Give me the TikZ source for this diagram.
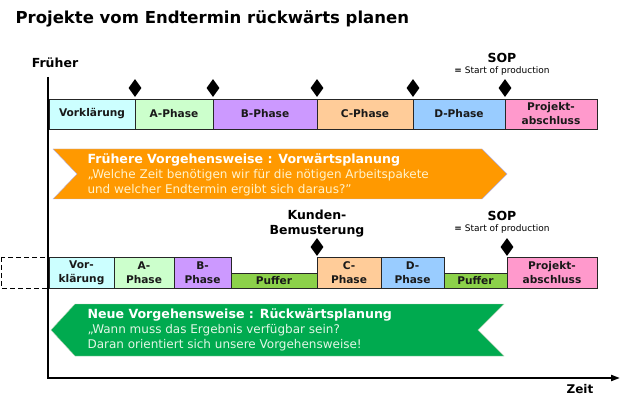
\documentclass[tikz,border=0pt]{standalone}
\usepackage{fontspec}
\setmainfont{DejaVu Sans}
\usetikzlibrary{shapes.geometric,arrows.meta}
\definecolor{cvor}{HTML}{CCFFFF}
\definecolor{cphA}{HTML}{CCFFCC}
\definecolor{cphB}{HTML}{CC99FF}
\definecolor{cphC}{HTML}{FFCC99}
\definecolor{cphD}{HTML}{99CCFF}
\definecolor{cabs}{HTML}{FF99CC}
\definecolor{cpuf}{HTML}{8CD14A}
\definecolor{corange}{HTML}{FF9900}
\definecolor{cgreen}{HTML}{00AA4F}
\definecolor{cream}{HTML}{FFF3CC}
\definecolor{mint}{HTML}{E2F6E6}
\tikzset{
  phasebox/.style={draw=black!85, line width=0.9pt, inner sep=0pt, align=center,
    font=\fontsize{10.6}{14}\selectfont\bfseries, text=black!90},
  milestone/.style={diamond, fill=black, inner sep=0pt, minimum width=13pt, minimum height=18pt},
  label/.style={align=center, font=\fontsize{12.5}{15}\selectfont\bfseries},
  sublabel/.style={font=\fontsize{9}{11}\selectfont},
  axisline/.style={line width=2pt, black}
}
\begin{document}
\begin{tikzpicture}[x=1pt,y=-1pt]
    \useasboundingbox (0,0) rectangle (630,409);
    \node[anchor=west, font=\fontsize{16.5}{19}\selectfont\bfseries] (title) at (12,19) {Projekte vom Endtermin rückwärts planen};
    % axes
    \coordinate (ytop) at (48,77);
    \coordinate (origin) at (48,378);
    \coordinate (xend) at (620,378);
    \draw[axisline] (ytop) -- (origin);
    \draw[axisline, -{Triangle[length=9pt,width=6pt]}] ([xshift=-1pt]origin) -- (xend);
    \node[font=\fontsize{12.5}{15}\selectfont\bfseries] (frueher) at (55,63) {Früher};
    \node[font=\fontsize{12}{15}\selectfont\bfseries] (zeit) at (580,389) {Zeit};
    % Vorwaertsplanung
    \node[phasebox, fill=cvor, minimum width=86pt, minimum height=30pt] (vk1) at (92,114) {Vorklärung};
    \node[phasebox, fill=cphA, minimum width=78pt, minimum height=30pt] (a1) at (174,114) {A-Phase};
    \node[phasebox, fill=cphB, minimum width=104pt, minimum height=30pt] (b1) at (265,114) {B-Phase};
    \node[phasebox, fill=cphC, minimum width=96pt, minimum height=30pt] (c1) at (365,114) {C-Phase};
    \node[phasebox, fill=cphD, minimum width=92pt, minimum height=30pt] (d1) at (459,114) {D-Phase};
    \node[phasebox, fill=cabs, minimum width=92pt, minimum height=30pt] (pa1) at (551,114) {Projekt-\\abschluss};
    \foreach \mx [count=\i] in {135,213,317,413,505}
        \node[milestone] (m\i) at (\mx,88) {};
    \node[label] (sop1) at (502,58) {SOP};
    \node[sublabel] (sopt1) at (502,71) {\textbf{=} Start of production};
    \fill[corange, draw=black!25!blue!30] (53,149) -- (482,149) -- (507,174) -- (482,199) -- (53,199) -- (77,174) -- cycle;
    \node[anchor=west, align=left, text=cream, font=\fontsize{12}{15}\selectfont] (alt) at (84,175)
        {\textcolor{white}{\fontsize{12.6}{15}\selectfont\bfseries Frühere Vorgehensweise : Vorwärtsplanung}\\
         „Welche Zeit benötigen wir für die nötigen Arbeitspakete\\
         und welcher Endtermin ergibt sich daraus?"};
    % Rueckwaertsplanung
    \draw[dashed, dash pattern=on 5pt off 3pt, line width=0.9pt] (1,257) rectangle (48,288);
    \node[phasebox, fill=cvor, minimum width=65pt, minimum height=31pt] (vk2) at (81.5,272.5) {Vor-\\klärung};
    \node[phasebox, fill=cphA, minimum width=60pt, minimum height=31pt] (a2) at (144,272.5) {A-\\Phase};
    \node[phasebox, fill=cphB, minimum width=57pt, minimum height=31pt] (b2) at (202.5,272.5) {B-\\Phase};
    \node[phasebox, fill=cpuf, minimum width=86pt, minimum height=15pt] (pu1) at (274,280.5) {Puffer};
    \node[phasebox, fill=cphC, minimum width=64pt, minimum height=31pt] (c2) at (349,272.5) {C-\\Phase};
    \node[phasebox, fill=cphD, minimum width=63pt, minimum height=31pt] (d2) at (412.5,272.5) {D-\\Phase};
    \node[phasebox, fill=cpuf, minimum width=63pt, minimum height=15pt] (pu2) at (475.5,280.5) {Puffer};
    \node[phasebox, fill=cabs, minimum width=90pt, minimum height=31pt] (pa2) at (552,272.5) {Projekt-\\abschluss};
    \node[milestone] (k1) at (317,247) {};
    \node[milestone] (k2) at (507,247) {};
    \node[label] (kunde) at (317,223.5) {Kunden-\\Bemusterung};
    \node[label] (sop2) at (502,216) {SOP};
    \node[sublabel] (sopt2) at (502,229) {\textbf{=} Start of production};
    \fill[cgreen, draw=green!40!black!30] (75,304) -- (504,304) -- (478,330) -- (504,356) -- (75,356) -- (51,330) -- cycle;
    \node[anchor=west, align=left, text=mint, font=\fontsize{12}{15}\selectfont] (neu) at (84,330)
        {\textcolor{white}{\fontsize{12.6}{15}\selectfont\bfseries Neue Vorgehensweise : Rückwärtsplanung}\\
         „Wann muss das Ergebnis verfügbar sein?\\
         Daran orientiert sich unsere Vorgehensweise!};
\end{tikzpicture}
\end{document}
